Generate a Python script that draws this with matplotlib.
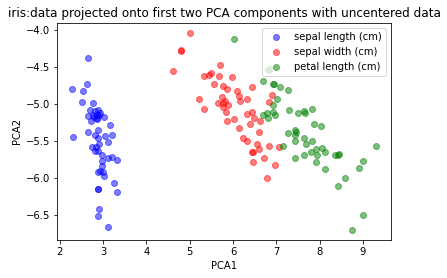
import matplotlib
matplotlib.use("Agg")
import matplotlib.pyplot as plt

target_names = ['sepal length (cm)', 'sepal width (cm)', 'petal length (cm)']
colors = ['blue', 'red', 'green']

pc1_a = [2.66, 2.63, 2.29, 2.54, 2.52, 2.77, 2.70, 2.81, 2.89, 2.93,
         2.64, 2.85, 2.86, 2.71, 2.77, 3.01, 3.16, 2.66, 2.89, 2.81,
         3.05, 3.20, 2.31, 2.89, 3.12, 2.91, 2.74, 2.81, 2.87, 2.97,
         3.12, 3.20, 3.32, 2.97, 2.97, 2.93, 2.89, 2.99, 3.01, 3.24,
         3.32, 2.87, 2.87, 2.91, 2.87, 3.12, 2.86, 2.79, 2.91, 2.83]
pc2_a = [-4.38, -4.73, -4.80, -4.83, -4.98, -4.99, -5.09, -5.10, -5.08, -5.12,
         -5.17, -5.21, -5.20, -5.23, -5.15, -5.18, -5.29, -5.39, -5.35, -5.42,
         -5.44, -5.42, -5.45, -5.47, -5.52, -5.55, -5.59, -5.64, -5.64, -5.70,
         -5.73, -5.72, -5.76, -5.77, -5.84, -5.91, -5.93, -5.92, -5.98, -6.08,
         -6.20, -6.15, -6.16, -6.43, -6.52, -6.67, -5.15, -5.18, -5.16, -5.58]

pc1_b = [5.00, 4.79, 4.80, 4.61, 5.70, 5.33, 5.45, 5.50, 5.68, 5.98,
         5.56, 5.77, 5.87, 6.10, 6.44, 6.14, 6.17, 6.33, 5.21, 5.75,
         5.65, 5.76, 5.81, 5.89, 5.76, 5.83, 5.33, 5.87, 6.03, 6.14,
         6.22, 6.33, 6.43, 6.49, 6.40, 6.63, 6.89, 6.82, 6.61, 6.32,
         6.55, 6.61, 6.44, 6.45, 6.84, 7.07, 6.45, 6.72, 6.98, 6.79]
pc2_b = [-4.04, -4.29, -4.28, -4.56, -4.48, -4.62, -4.61, -4.58, -4.62, -4.64,
         -4.73, -4.76, -4.80, -4.83, -4.77, -4.89, -4.96, -4.94, -4.94, -4.91,
         -4.99, -4.99, -4.96, -5.02, -5.04, -5.11, -5.07, -5.24, -5.21, -5.33,
         -5.46, -5.14, -5.11, -5.19, -5.27, -5.23, -4.88, -4.98, -5.38, -5.51,
         -5.55, -5.61, -5.65, -5.66, -5.57, -5.58, -5.79, -5.73, -5.83, -6.01]

pc1_c = [6.03, 6.80, 6.86, 6.70, 6.93, 6.94, 7.09, 7.28, 7.02, 6.92,
         6.69, 6.79, 6.92, 6.80, 6.96, 7.30, 7.50, 7.64, 7.67, 7.83,
         7.86, 8.04, 7.28, 7.42, 7.46, 7.42, 7.44, 7.16, 7.65, 7.68,
         7.82, 7.44, 7.63, 7.79, 7.92, 7.94, 8.06, 8.12, 7.91, 8.12,
         8.35, 8.44, 8.43, 9.30, 9.00, 8.91, 8.58, 8.42, 9.00, 8.74]
pc2_c = [-4.12, -4.55, -4.53, -4.70, -4.73, -4.74, -4.78, -4.81, -4.94, -5.02,
         -5.15, -5.13, -5.11, -5.19, -5.16, -5.09, -5.13, -5.10, -5.12, -5.07,
         -5.28, -5.30, -5.40, -5.36, -5.38, -5.43, -5.51, -5.57, -5.46, -5.54,
         -5.50, -5.73, -5.69, -5.65, -5.62, -5.69, -5.60, -5.66, -5.79, -5.89,
         -5.69, -5.68, -5.70, -5.57, -5.78, -5.87, -6.01, -6.11, -6.50, -6.71]

groups = [(pc1_a, pc2_a), (pc1_b, pc2_b), (pc1_c, pc2_c)]

fig = plt.figure(figsize=(447 / 72, 278 / 72), dpi=72)
ax = fig.add_axes([0.128, 0.137, 0.747, 0.781])

for (xs, ys), color, name in zip(groups, colors, target_names):
    ax.scatter(xs, ys, color=color, alpha=0.5, label=name)

ax.legend(loc='upper right')
ax.set_title('iris:data projected onto first two PCA components with uncentered data')
ax.set_xlabel('PCA1')
ax.set_ylabel('PCA2')

fig.savefig('out.png', dpi=72)
